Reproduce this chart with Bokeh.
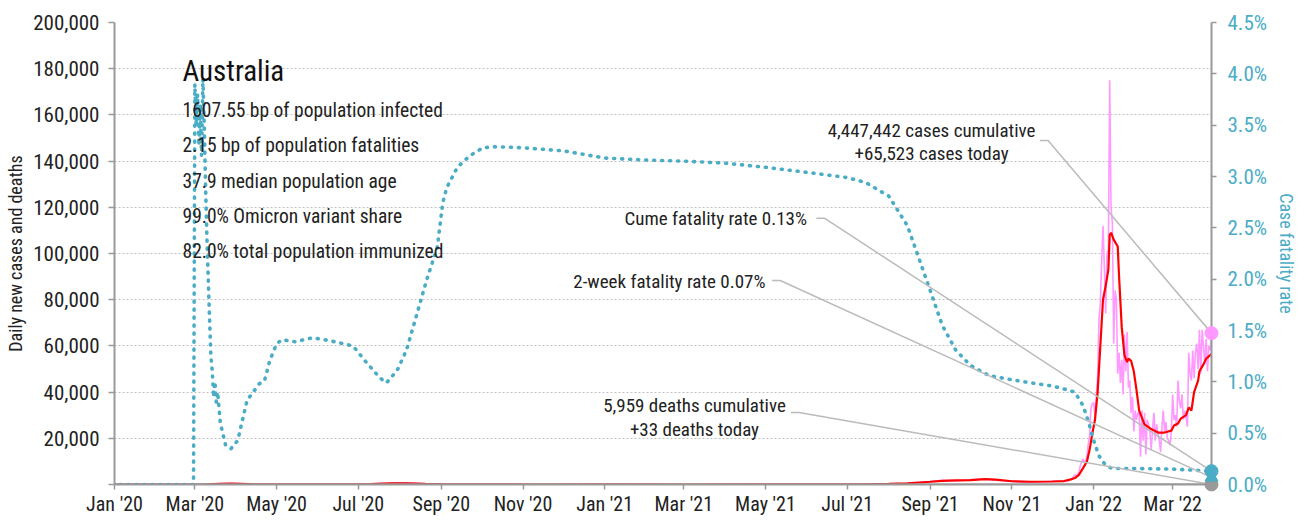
import pandas as pd
from bokeh.plotting import figure
from bokeh.models import (Range1d, LinearAxis, FixedTicker, MonthsTicker,
                          DatetimeTickFormatter, NumeralTickFormatter,
                          PrintfTickFormatter, Label, ColumnDataSource)
from bokeh.embed import file_html
from bokeh.resources import INLINE
from bokeh.core.properties import value

FONT = ("'Liberation Sans Narrow', 'Roboto Condensed', 'Noto Sans Condensed', "
        "'DejaVu Sans Condensed', Roboto, sans-serif")

# ---------------- data ----------------
early_dates = ["2020-01-01", "2020-02-29", "2020-03-10", "2020-03-20", "2020-03-28",
               "2020-04-05", "2020-04-15", "2020-05-01", "2020-06-01", "2020-06-25",
               "2020-07-10", "2020-07-25", "2020-08-05", "2020-08-20", "2020-09-05",
               "2020-09-25", "2020-10-15", "2020-11-15", "2020-12-25", "2021-01-15",
               "2021-03-01", "2021-05-01", "2021-06-15", "2021-07-01", "2021-07-15",
               "2021-08-01", "2021-08-15", "2021-09-01", "2021-09-10", "2021-09-20",
               "2021-10-01", "2021-10-12", "2021-10-20", "2021-11-01", "2021-11-15",
               "2021-12-01"]
early_daily = [0, 3, 70, 370, 460, 250, 40, 15, 10, 80, 270, 500, 700, 250, 100, 20, 10,
               12, 25, 10, 6, 15, 20, 25, 130, 220, 460, 1300, 1800, 1600, 2000, 2400,
               1900, 1300, 1100, 1250]
early_avg = [0, 5, 40, 250, 400, 280, 60, 20, 12, 60, 220, 450, 520, 280, 110, 30, 15,
             10, 20, 15, 8, 12, 15, 30, 110, 250, 500, 1200, 1600, 1750, 1900, 2300,
             2100, 1400, 1200, 1300]

# daily new cases, one value per day from 2021-12-10 to 2022-03-30
omicron_start = "2021-12-10"
omicron_daily = [
    1500, 1600, 1700, 1400, 1900, 2300, 2700, 3500, 4100, 3900, 4300, 5400, 8000, 9700,
    11000, 9800, 10200, 12500, 17500, 21000, 33000, 35000,
    35500, 30000, 38000, 47000, 72000, 78000, 97000, 112000, 94000, 74000, 100000,
    102000, 175000, 120000, 113000, 61000, 84000, 80000, 48000, 57000, 44000, 54000,
    39000, 65000, 49000, 66000, 42000, 45000, 31000, 38000, 23000,
    32000, 28000, 31000, 31000, 12000, 32000, 19000, 31000, 13000, 28000, 26000, 23000,
    15000, 24000, 31000, 19000, 26000, 22000, 19000, 14000, 25000, 32000, 23000, 27000,
    20000, 19000, 17000, 23000,
    39000, 28000, 30000, 25000, 45000, 36000, 33000, 39000, 28000, 32000, 29000, 25000,
    57000, 48000, 45000, 58000, 46000, 57000, 61000, 50000, 67000, 48000, 67000, 60000,
    52000, 63000, 49000, 60000, 58000, 65523]

late_avg_dates = ["2021-12-10", "2021-12-15", "2021-12-18", "2021-12-21", "2021-12-24",
                  "2021-12-27", "2021-12-29", "2021-12-31", "2022-01-02", "2022-01-04",
                  "2022-01-06", "2022-01-08", "2022-01-10", "2022-01-12", "2022-01-13",
                  "2022-01-14", "2022-01-16", "2022-01-18", "2022-01-19", "2022-01-20",
                  "2022-01-22", "2022-01-24", "2022-01-26", "2022-01-27", "2022-01-29",
                  "2022-01-31", "2022-02-02", "2022-02-04", "2022-02-08", "2022-02-13",
                  "2022-02-18", "2022-02-23", "2022-02-28", "2022-03-02", "2022-03-05",
                  "2022-03-07", "2022-03-11", "2022-03-13", "2022-03-15", "2022-03-17",
                  "2022-03-20", "2022-03-21", "2022-03-24", "2022-03-26", "2022-03-30"]
late_avg = [1500, 2200, 2800, 4200, 7000, 10000, 15000, 22000, 28000, 40000, 60000,
            80000, 86000, 93000, 108000, 109000, 106000, 104000, 103000, 90000, 68000,
            56000, 53000, 54500, 53500, 49000, 41000, 32000, 26000, 24000, 22500, 22500,
            23300, 25500, 26400, 28500, 30000, 33300, 32000, 40000, 45000, 49000, 52000,
            54500, 56500]

cfr_dates = ["2020-01-05", "2020-02-29", "2020-03-01", "2020-03-02", "2020-03-03",
             "2020-03-04", "2020-03-05", "2020-03-06", "2020-03-07", "2020-03-08",
             "2020-03-09", "2020-03-10", "2020-03-11", "2020-03-12", "2020-03-13",
             "2020-03-14", "2020-03-15", "2020-03-16", "2020-03-17", "2020-03-18",
             "2020-03-20", "2020-03-24", "2020-03-28", "2020-04-02", "2020-04-09",
             "2020-04-18", "2020-04-22", "2020-04-26", "2020-05-01", "2020-05-05",
             "2020-05-15", "2020-05-28", "2020-06-10", "2020-06-27", "2020-07-07",
             "2020-07-17", "2020-07-22", "2020-07-30", "2020-08-06", "2020-08-14",
             "2020-08-21", "2020-08-29", "2020-09-02", "2020-09-05", "2020-09-13",
             "2020-09-22", "2020-10-02", "2020-10-12", "2020-11-01", "2020-12-01",
             "2021-01-01", "2021-02-01", "2021-03-01", "2021-04-01", "2021-05-01",
             "2021-06-01", "2021-07-01", "2021-07-15", "2021-08-01", "2021-08-15",
             "2021-09-01", "2021-09-10", "2021-09-20", "2021-10-01", "2021-10-15",
             "2021-11-01", "2021-11-15", "2021-12-01", "2021-12-10", "2021-12-18",
             "2021-12-24", "2021-12-28", "2022-01-01", "2022-01-05", "2022-01-10",
             "2022-01-15", "2022-02-01", "2022-03-01", "2022-03-30"]
cfr_pct = [0, 0, 3.9, 3.5, 3.8, 3.3, 3.7, 3.2, 3.95, 3.5, 2.9, 2.4, 2.0, 1.6, 1.25,
           1.1, 0.85, 1.0, 0.8, 0.9, 0.6, 0.38, 0.35, 0.43, 0.82, 0.98, 1.01, 1.21,
           1.37, 1.41, 1.39, 1.43, 1.40, 1.35, 1.19, 1.04, 0.99, 1.11, 1.31, 1.67,
           1.99, 2.31, 2.74, 2.89, 3.09, 3.20, 3.28, 3.29, 3.28, 3.25, 3.18, 3.16,
           3.15, 3.13, 3.09, 3.04, 2.99, 2.94, 2.81, 2.52, 1.89, 1.55, 1.31, 1.16,
           1.06, 1.02, 0.99, 0.96, 0.93, 0.90, 0.77, 0.62, 0.43, 0.28, 0.185, 0.156,
           0.156, 0.15, 0.13]

death_dates = ["2020-01-01", "2020-04-01", "2020-08-10", "2020-10-01", "2021-06-01",
               "2021-10-10", "2022-01-25", "2022-03-30"]
death_avg = [0, 3, 18, 2, 0, 15, 80, 33]

country = "Australia"
info_lines = ["1607.55 bp of population infected", "2.15 bp of population fatalities",
              "37.9 median population age", "99.0% Omicron variant share",
              "82.0% total population immunized"]
cum_cases, today_cases = 4447442, 65523
cum_deaths, today_deaths = 5959, 33
cume_cfr, two_week_cfr = 0.13, 0.07

x_ticks_months = [0, 2, 4, 6, 8, 10]
left_ticks = [0, 20000, 40000, 60000, 80000, 100000, 120000, 140000, 160000, 180000, 200000]
right_ticks = [0, 0.5, 1.0, 1.5, 2.0, 2.5, 3.0, 3.5, 4.0, 4.5]
CASES_MAX, CFR_MAX = 200000, 4.5

# ---------------- colours ----------------
PINK, RED, TEAL, GREY, AXIS = "#ff99ff", "#ff0000", "#4bacc6", "#bbbbbb", "#999999"

# ---------------- build series ----------------
daily_x = pd.to_datetime(early_dates[:-1]).tolist() + \
    pd.date_range(omicron_start, periods=len(omicron_daily), freq="D").tolist()
daily_y = early_daily[:-1] + omicron_daily
avg_x = pd.to_datetime(early_dates + late_avg_dates)
avg_y = early_avg + late_avg
last = daily_x[-1]

p = figure(width=1300, height=520, x_axis_type="datetime",
           x_range=Range1d(pd.Timestamp("2020-01-01"), last),
           y_range=Range1d(0, CASES_MAX), output_backend="svg", toolbar_location=None,
           min_border_left=114, min_border_right=87, min_border_top=22,
           min_border_bottom=36)
p.extra_y_ranges = {"cfr": Range1d(0, CFR_MAX)}
p.outline_line_color = None

xa = p.xaxis[0]
xa.ticker = MonthsTicker(months=x_ticks_months)
xa.formatter = DatetimeTickFormatter(months="%b '%y", days="%b '%y", years="%b '%y")
ya = p.yaxis[0]
ya.ticker = FixedTicker(ticks=left_ticks)
ya.formatter = NumeralTickFormatter(format="0,0")
ya.major_label_overrides = {0: ""}
ya.axis_label = "Daily new cases and deaths"
ra = LinearAxis(y_range_name="cfr", ticker=FixedTicker(ticks=right_ticks),
                formatter=PrintfTickFormatter(format="%.1f%%"),
                axis_label="Case fatality rate")
p.add_layout(ra, "right")

for ax in (xa, ya, ra):
    ax.axis_line_color = AXIS
    ax.axis_line_width = 2
    ax.major_tick_line_color = AXIS
    ax.major_tick_line_width = 1.5
    ax.major_tick_out = 6
    ax.major_tick_in = 0
    ax.minor_tick_line_color = None
    ax.major_label_text_font = FONT
    ax.major_label_text_font_size = "21px"
    ax.major_label_text_color = "#222222"
    ax.axis_label_text_font = FONT
    ax.axis_label_text_font_size = "18px"
    ax.axis_label_text_font_style = "normal"
    ax.axis_label_text_color = "#222222"
xa.major_label_text_font_size = "20px"
ya.major_label_standoff = 9
ya.axis_label_standoff = 4
xa.major_tick_out = 5
xa.major_label_standoff = 2
ra.major_tick_out = 5
ra.major_label_standoff = 11
ra.axis_label_standoff = 6
ra.major_label_text_color = TEAL
ra.axis_label_text_color = TEAL

p.xgrid.visible = False
p.ygrid.ticker = FixedTicker(ticks=left_ticks)
p.ygrid.grid_line_color = "#c0c0c0"
p.ygrid.grid_line_dash = "2 2"
p.ygrid.grid_line_width = 1

# ---------------- series ----------------
p.line(daily_x, daily_y, color=PINK, line_width=1.6)
p.line(avg_x, avg_y, color=RED, line_width=2.2)
p.line(pd.to_datetime(death_dates), death_avg, color=AXIS, line_width=2)
p.line(pd.to_datetime(cfr_dates), cfr_pct, color=TEAL, line_width=3.6,
       line_dash="1 7", line_cap="round", y_range_name="cfr")

# ---------------- leader lines ----------------
scale = CFR_MAX / CASES_MAX
cases_lead = (["2021-11-22", "2021-11-28"], 148900)
deaths_lead = (["2021-05-20", "2021-05-26"], 31200)
cume_lead = (["2021-06-08", "2021-06-14"], 115300)
twowk_lead = (["2021-05-06", "2021-05-12"], 88300)
for (d, yv), end_y, rng in [(cases_lead, today_cases, "default"),
                            (deaths_lead, today_deaths, "default"),
                            (cume_lead, cume_cfr, "cfr"),
                            (twowk_lead, two_week_cfr, "cfr")]:
    y0 = yv if rng == "default" else yv * scale
    p.line(pd.to_datetime(d).tolist() + [last], [y0, y0, end_y], color=GREY,
           line_width=1.5, y_range_name=rng)

# end markers (drawn on the overlay level so they are not clipped at the frame edge)
p.scatter([last], [today_deaths], size=13, color=AXIS, level="overlay")
p.scatter([last], [two_week_cfr], marker="triangle", size=13, color=TEAL,
          y_range_name="cfr", level="overlay")
p.scatter([last], [cume_cfr], size=13, color=TEAL, y_range_name="cfr", level="overlay")
p.scatter([last], [today_cases], size=13, color=PINK, level="overlay")

# ---------------- annotation texts ----------------
ann = ColumnDataSource(dict(
    x=pd.to_datetime(["2021-09-02", "2021-09-02", "2021-03-09", "2021-03-09"]),
    y=[153200, 143100, 34200, 23800],
    t=[f"{cum_cases:,} cases cumulative", f"+{today_cases:,} cases today",
       f"{cum_deaths:,} deaths cumulative", f"+{today_deaths:,} deaths today"]))
p.text(x="x", y="y", text="t", source=ann, text_align="center", text_baseline="middle",
       text_font=value(FONT), text_font_size="19px", text_color="#222222")
ann2 = ColumnDataSource(dict(
    x=pd.to_datetime(["2021-06-01", "2021-05-01"]),
    y=[115200, 87900],
    t=[f"Cume fatality rate {cume_cfr:.2f}%", f"2-week fatality rate {two_week_cfr:.2f}%"]))
p.text(x="x", y="y", text="t", source=ann2, text_align="right", text_baseline="middle",
       text_font=value(FONT), text_font_size="19px", text_color="#222222")

# ---------------- title block ----------------
p.add_layout(Label(x=68, y=414, x_units="screen", y_units="screen", text=country,
                   text_font=FONT, text_font_size="29px", text_baseline="middle",
                   text_color="#111111"))
for i, s in enumerate(info_lines):
    p.add_layout(Label(x=68, y=374 - i * 35.3, x_units="screen", y_units="screen",
                       text=s, text_font=FONT, text_font_size="19.5px",
                       text_baseline="middle", text_color="#222222"))

open("out.html", "w").write(file_html(p, INLINE))
